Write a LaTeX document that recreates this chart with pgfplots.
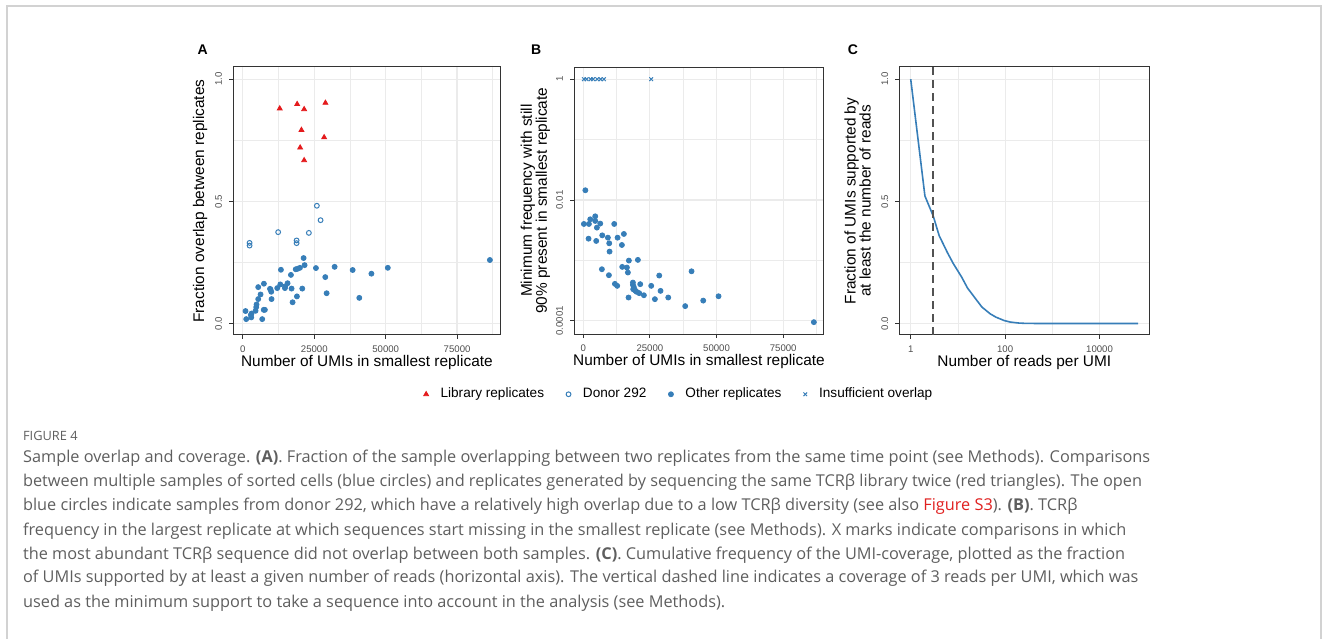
\documentclass[border=0pt]{standalone}
\usepackage{pgfplots}
\pgfplotsset{compat=1.18}
\usepackage{fontspec}
\setmainfont{Liberation Sans}
\newfontfamily\capfont{Open Sans}

\definecolor{setred}{HTML}{E41A1C}
\definecolor{setblue}{HTML}{377EB8}
\definecolor{tickgrey}{HTML}{4D4D4D}
\definecolor{gridgrey}{HTML}{EBEBEB}
\definecolor{panelgrey}{HTML}{333333}
\definecolor{captext}{HTML}{5E5E5E}
\definecolor{linkred}{HTML}{E0201F}

% ggplot2 theme_bw look
\pgfplotsset{
  ggpanel/.style={
    scale only axis,
    axis line style={panelgrey, line width=0.5pt},
    xtick pos=bottom, ytick pos=left,
    tick align=outside,
    major tick length=2pt, minor tick length=0pt,
    tick style={panelgrey, line width=0.5pt},
    grid=both,
    major grid style={gridgrey, line width=0.6pt},
    minor grid style={gridgrey, line width=0.35pt},
    scaled x ticks=false, scaled y ticks=false,
    ticklabel style={font=\fontsize{4.8}{5}\selectfont, text=tickgrey},
    yticklabel style={rotate=90, anchor=south},
    label style={font=\fontsize{7.7}{7.5}\selectfont},
    xlabel style={at={(axis description cs:0.5,-0.104)}, anchor=center},
    ylabel style={rotate=0, anchor=center, align=center},
  },
  umix/.style={
    xmin=-3460, xmax=90300,
    xtick={0,25000,50000,75000},
    xticklabels={0,25000,50000,75000},
    minor xtick={12500,37500,62500,87500},
  },
  dotmark/.style={only marks, mark=*, mark size=1.25pt, color=setblue},
  ringmark/.style={only marks, mark=o, mark size=1.2pt, color=setblue, mark options={line width=0.5pt}},
  trimark/.style={only marks, mark=triangle*, mark size=1.4pt, color=setred},
  crossmark/.style={only marks, mark=x, mark size=1.3pt, color=setblue, mark options={line width=0.5pt}},
}

\begin{document}
\begin{tikzpicture}
\useasboundingbox (0,0) rectangle (664.5pt,319pt);
\draw[gray!35, line width=0.6pt] (3.5pt,-1pt) -- (3.5pt,316pt) -- (660.5pt,316pt) -- (660.5pt,-1pt);

% ---------- A ----------
\begin{axis}[ggpanel, umix,
  at={(116.5pt,285.5pt)}, anchor=north west,
  width=133.9pt, height=134pt,
  ymin=-0.047, ymax=1.05,
  ytick={0,0.5,1}, yticklabels={0.0,0.5,1.0},
  minor ytick={0.25,0.75},
  xlabel={Number of UMIs in smallest replicate},
  ylabel={Fraction overlap between replicates},
  ylabel style={at={(axis description cs:-0.123,0.5)}},
]
\addplot[dotmark] coordinates {
  (86480,0.260) (21260,0.268) (21610,0.239) (25580,0.227) (32120,0.232)
  (38430,0.219) (45000,0.204) (50740,0.228) (19970,0.228) (19160,0.224)
  (18500,0.222) (16820,0.199) (13320,0.220) (28850,0.190) (15650,0.165)
  (14720,0.145) (14800,0.152) (13100,0.160) (12030,0.145) (9500,0.142)
  (9690,0.139) (9930,0.130) (17050,0.143) (20790,0.143) (7360,0.163)
  (5370,0.149) (6190,0.119) (5370,0.100) (10040,0.100) (18920,0.111)
  (17400,0.087) (29320,0.124) (40760,0.105) (4790,0.078) (4670,0.067)
  (4440,0.052) (7300,0.056) (7700,0.056) (930,0.051) (3040,0.041)
  (2800,0.035) (2920,0.025) (1170,0.018) (6770,0.018)
};
\addplot[ringmark] coordinates {
  (25900,0.482) (27200,0.423) (12350,0.374) (23100,0.371)
  (2340,0.330) (2340,0.319) (18800,0.340) (18800,0.329)
};
\addplot[trimark] coordinates {
  (12900,0.880) (19000,0.898) (21450,0.877) (28900,0.903)
  (20500,0.792) (28450,0.762) (20050,0.720) (21450,0.668)
};
\end{axis}

% ---------- B ----------
\begin{axis}[ggpanel, umix,
  at={(287pt,285.4pt)}, anchor=north west,
  width=125pt, height=133.5pt,
  ymode=log, ymin=6.0e-5, ymax=1.58,
  ytick={1,0.01,0.0001}, yticklabels={1,0.01,0.0001},
  minor ytick={0.1,0.001},
  xlabel={Number of UMIs in smallest replicate},
  ylabel={Minimum frequency with still\\90\% present in smallest replicate},
  ylabel style={at={(axis description cs:-0.154,0.5)}},
  legend style={at={(0.424,-0.225)}, anchor=center, draw=none, fill=none,
    legend columns=-1, font=\fontsize{6.8}{8}\selectfont,
    /tikz/every odd column/.append style={column sep=4pt},
    /tikz/every even column/.append style={column sep=9pt}},
]
\addlegendimage{trimark}
\addlegendentry{Library replicates}
\addlegendimage{ringmark}
\addlegendentry{Donor 292}
\addplot[dotmark] coordinates {
  (800,0.0145) (250,0.00401) (2130,0.00401) (2630,0.00479) (4500,0.00537)
  (4500,0.0045) (6380,0.00407) (5130,0.00349) (2000,0.00229) (4880,0.0021)
  (7130,0.0026) (9250,0.00238) (9750,0.00192) (9880,0.0014) (11630,0.00401)
  (12880,0.00238) (14500,0.0018) (15250,0.00274) (7000,0.000714) (9630,0.000569)
  (11880,0.000409) (12750,0.000379) (14630,0.000781) (16380,0.000762) (17130,0.000993)
  (16750,0.00063) (20500,0.00102) (18630,0.00043) (18630,0.000394) (19000,0.00036)
  (18750,0.000333) (19500,0.000317) (20000,0.000302) (21000,0.000287) (21380,0.000404)
  (17000,0.000243) (22750,0.000265) (25500,0.000379) (28500,0.000561) (29000,0.000313)
  (26880,0.000228) (31880,0.000243) (38250,0.000175) (40630,0.00066) (45000,0.000216)
  (50750,0.000255) (86500,0.000095)
};
\addlegendentry{Other replicates}
\addplot[crossmark] coordinates {
  (262,1) (1270,1) (2770,1) (3750,1) (5250,1) (6520,1) (7760,1) (25500,1)
};
\addlegendentry{Insufficient overlap}
\end{axis}

% ---------- C ----------
\begin{axis}[ggpanel,
  at={(449.65pt,285.5pt)}, anchor=north west,
  width=125pt, height=134pt,
  xmode=log, xmin=0.573, xmax=113500,
  xtick={1,100,10000}, xticklabels={1,100,10000},
  minor xtick={10,1000},
  ymin=-0.047, ymax=1.05,
  ytick={0,0.5,1}, yticklabels={0.0,0.5,1.0},
  minor ytick={0.25,0.75},
  xlabel={Number of reads per UMI},
  ylabel={Fraction of UMIs supported by\\at least the number of reads},
  ylabel style={at={(axis description cs:-0.167,0.5)}},
]
\addplot[setblue, line width=0.8pt] coordinates {
  (1,1.0) (2,0.522) (3,0.44) (4,0.36) (6,0.29) (8,0.245) (12,0.19)
  (16,0.145) (24,0.10) (32,0.068) (48,0.04) (64,0.026) (96,0.012)
  (128,0.006) (192,0.002) (256,0.0008) (512,0) (66000,0)
};
\addplot[panelgrey!85, line width=1pt, dash pattern=on 4pt off 2.5pt] coordinates {(3,-0.1) (3,1.2)};
\end{axis}

% panel letters
\node[anchor=base west, inner sep=0, font=\fontsize{7}{8}\selectfont\bfseries] at (98.65pt,291.5pt) {A};
\node[anchor=base west, inner sep=0, font=\fontsize{7}{8}\selectfont\bfseries] at (265.3pt,291.8pt) {B};
\node[anchor=base west, inner sep=0, font=\fontsize{7}{8}\selectfont\bfseries] at (423.7pt,291.8pt) {C};

% caption
\begin{scope}[every node/.style={anchor=base west, inner sep=0, text=captext, font=\capfont\fontsize{8.15}{9}\selectfont}]
\node[font=\capfont\fontsize{6.4}{7}\selectfont] at (11.35pt,99pt) {FIGURE 4};
\node at (11.35pt,87.5pt) {Sample overlap and coverage. \textbf{(A)}. Fraction of the sample overlapping between two replicates from the same time point (see Methods). Comparisons};
\node at (11.35pt,75.5pt) {between multiple samples of sorted cells (blue circles) and replicates generated by sequencing the same TCRβ library twice (red triangles). The open};
\node at (11.35pt,63.5pt) {blue circles indicate samples from donor 292, which have a relatively high overlap due to a low TCRβ diversity (see also \textcolor{linkred}{Figure S3}). \textbf{(B)}. TCRβ};
\node at (11.35pt,51.5pt) {frequency in the largest replicate at which sequences start missing in the smallest replicate (see Methods). X marks indicate comparisons in which};
\node at (11.35pt,39.5pt) {the most abundant TCRβ sequence did not overlap between both samples. \textbf{(C)}. Cumulative frequency of the UMI-coverage, plotted as the fraction};
\node at (11.35pt,27.5pt) {of UMIs supported by at least a given number of reads (horizontal axis). The vertical dashed line indicates a coverage of 3 reads per UMI, which was};
\node at (11.35pt,15.5pt) {used as the minimum support to take a sequence into account in the analysis (see Methods).};
\end{scope}
\end{tikzpicture}
\end{document}
